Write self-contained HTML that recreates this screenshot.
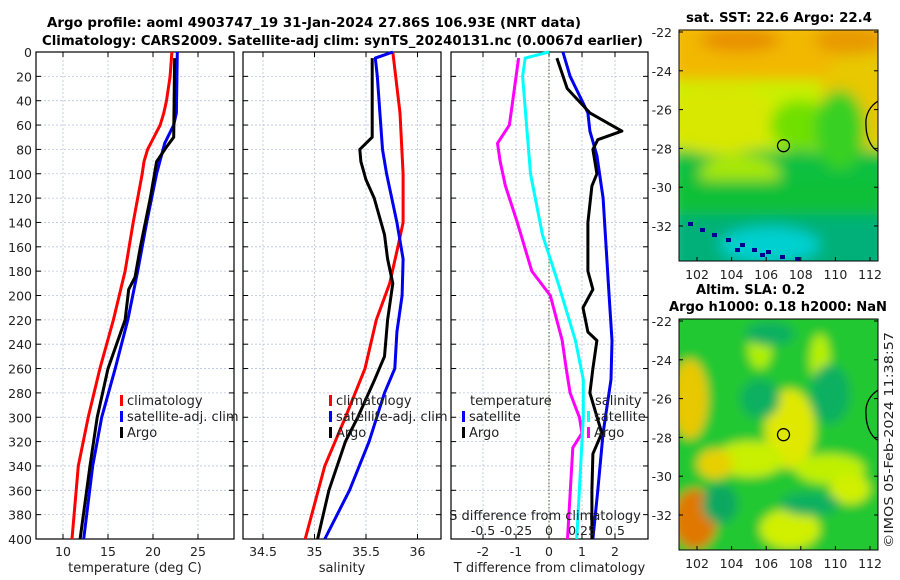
<!DOCTYPE html>
<html><head><meta charset="utf-8"><style>
body{margin:0;background:#fff;}
svg{display:block;font-family:"DejaVu Sans","Liberation Sans",sans-serif;}
</style></head><body>
<svg id="fig" width="900" height="580" viewBox="0 0 900 580">
<defs>
<filter id="blur1" x="-20%" y="-20%" width="140%" height="140%"><feGaussianBlur stdDeviation="7"/></filter>
<filter id="blur2" x="-20%" y="-20%" width="140%" height="140%"><feGaussianBlur stdDeviation="5"/></filter>
<clipPath id="clipTop"><rect x="679" y="30" width="199" height="231"/></clipPath>
<clipPath id="clipBot"><rect x="679" y="319" width="199" height="231"/></clipPath>
</defs>
<text x="47" y="27" font-size="13" font-weight="bold" textLength="534" lengthAdjust="spacingAndGlyphs">Argo profile: aoml 4903747_19 31-Jan-2024 27.86S 106.93E (NRT data)</text>
<text x="42" y="45" font-size="13" font-weight="bold" textLength="601" lengthAdjust="spacingAndGlyphs">Climatology: CARS2009. Satellite-adj clim: synTS_20240131.nc (0.0067d earlier)</text>
<g id="panels"></g>
<g id="maps"></g>
<text transform="translate(893,440) rotate(-90)" text-anchor="middle" font-size="12.5" fill="#222" textLength="216" lengthAdjust="spacingAndGlyphs">©IMOS 05-Feb-2024 11:38:57</text>
</svg>
<script>
// ---- data ----
const depthTicks=[0,20,40,60,80,100,120,140,160,180,200,220,240,260,280,300,320,340,360,380,400];
const tempTicks=[10,15,20,25];
const salTicks=[34.5,35,35.5,36];
const tdiffTicks=[-2,-1,0,1,2];
const sdiffTicks=[-0.5,-0.25,0,0.25,0.5];
const sdiffTickLabels=["-0.5","-0.25","0","0.25","0.5"];

const climTD=[0,20,40,50,60,70,80,90,100,140,180,220,260,300,340,400];
const climT=[22.1,21.9,21.5,21.2,20.8,20.1,19.4,19.0,18.8,17.8,16.9,15.6,14.1,12.8,11.7,11.0];
const satTD=[0,50,60,75,100,140,180,220,260,300,340,400];
const satT=[22.7,22.6,22.3,21.3,20.4,19.3,18.3,17.2,15.8,14.3,13.3,12.3];
const argoTD=[5,70,78,90,120,160,185,195,220,260,300,340,400];
const argoT=[22.4,22.3,21.5,20.4,19.7,18.6,18.0,17.3,16.9,15.0,13.8,13.0,11.9];

const climSD=[0,50,100,140,160,190,220,260,300,340,400];
const climS=[35.76,35.83,35.86,35.86,35.81,35.73,35.6,35.49,35.3,35.1,34.91];
const satSD=[0,5,20,80,100,140,170,200,230,260,280,320,360,400];
const satS=[35.76,35.59,35.61,35.66,35.7,35.8,35.86,35.85,35.8,35.78,35.68,35.53,35.34,35.1];
const argoSD=[5,70,80,90,105,120,150,170,190,220,250,270,300,320,360,400];
const argoS=[35.56,35.56,35.44,35.45,35.5,35.58,35.68,35.71,35.76,35.71,35.68,35.58,35.42,35.3,35.14,35.03];

const sArgoDD=[5,60,75,90,110,140,180,200,237,260,280,300,313,325,400];
const sArgoD=[-0.23,-0.3,-0.39,-0.37,-0.33,-0.24,-0.13,0.01,0.1,0.13,0.16,0.23,0.25,0.18,0.14];
const sSatDD=[0,5,20,100,150,190,237,269,300,400];
const sSatD=[0,-0.18,-0.2,-0.14,-0.05,0.07,0.2,0.26,0.26,0.21];
const tSatDD=[0,20,50,65,85,120,160,200,237,269,313,360,400];
const tSatD=[0.42,0.64,1.18,1.24,1.45,1.64,1.73,1.82,1.91,1.88,1.64,1.48,1.33];
const tArgoDD=[5,30,50,65,72,80,90,100,110,140,180,195,210,230,237,260,280,313,330,360,400];
const tArgoD=[0.24,0.55,1.24,2.21,1.48,1.33,1.39,1.45,1.3,1.18,1.18,1.33,1.03,1.18,1.45,1.33,1.24,1.6,1.33,1.3,1.3];

const NS="http://www.w3.org/2000/svg";
function mk(tag,attrs,parent){const e=document.createElementNS(NS,tag);for(const k in attrs)e.setAttribute(k,attrs[k]);parent.appendChild(e);return e;}
const Y0=52,Y1=539;
const yD=d=>Y0+(d/400)*(Y1-Y0);
const G=document.getElementById('panels');

function panel(name,x0,x1,xmin,xmax,ticks,labels,xlabel,showY){
  const g=mk('g',{},G);
  
  
  const xs=v=>x0+(v-xmin)/(xmax-xmin)*(x1-x0);
  depthTicks.forEach(d=>{ if(d>0&&d<400){const l=mk('line',{x1:x0,x2:x1,y1:yD(d),y2:yD(d),stroke:'#b8c4e0','stroke-width':0.8,'stroke-dasharray':'2,2'},g);}
    mk('line',{x1:x0,x2:x0+5,y1:yD(d),y2:yD(d),stroke:'#000'},g);mk('line',{x1:x1-5,x2:x1,y1:yD(d),y2:yD(d),stroke:'#000'},g);
    if(showY){const t=mk('text',{x:x0-4,y:yD(d)+5,'text-anchor':'end','font-size':12.5,fill:'#222'},g);t.textContent=d;}
  });
  ticks.forEach((v,i)=>{const x=xs(v);
    const l=mk('line',{x1:x,x2:x,y1:Y0,y2:Y1,stroke:'#b8c4e0','stroke-width':0.8,'stroke-dasharray':'2,2'},g);
    mk('line',{x1:x,x2:x,y1:Y1-5,y2:Y1,stroke:'#000'},g);mk('line',{x1:x,x2:x,y1:Y0,y2:Y0+5,stroke:'#000'},g);
    const t=mk('text',{x:x,y:Y1+17,'text-anchor':'middle','font-size':12.5,fill:'#222'},g);t.textContent=labels[i];});
  const xl=mk('text',{x:(x0+x1)/2,y:572,'text-anchor':'middle','font-size':13,fill:'#222'},g);xl.textContent=xlabel;
  const fr=mk('rect',{x:x0,y:Y0,width:x1-x0,height:Y1-Y0,fill:'none',stroke:'#000','stroke-width':1.2},g);
  return {g,xs};
}
function line(p,ds,vs,color,name,sc){
  const pts=ds.map((d,i)=>(sc?sc(vs[i]):p.xs(vs[i])).toFixed(1)+','+yD(d).toFixed(1)).join(' ');
  const l=mk('polyline',{points:pts,fill:'none',stroke:color,'stroke-width':3,'stroke-linejoin':'round'},p.g);
  
}
function legend(g,x,y,items){items.forEach((it,i)=>{mk('rect',{x:x,y:y+i*16-10,width:3,height:11,fill:it[1]},g);
  const t=mk('text',{x:x+7,y:y+i*16,'font-size':13,fill:'#222'},g);t.textContent=it[0];});}

const p1=panel('temperature-panel',36,234,7,29,tempTicks,tempTicks.map(String),'temperature (deg C)',true);
line(p1,climTD,climT,'#f00','climatology-temp-line');
line(p1,satTD,satT,'#0000f0','satellite-temp-line');
line(p1,argoTD,argoT,'#000','argo-temp-line');
legend(p1.g,120,405,[['climatology','#f00'],['satellite-adj. clim','#00f'],['Argo','#000']]);

const p2=panel('salinity-panel',243,441,34.306,36.228,salTicks,['34.5','35','35.5','36'],'salinity',false);
line(p2,climSD,climS,'#f00','climatology-salinity-line');
line(p2,satSD,satS,'#0000f0','satellite-salinity-line');
line(p2,argoSD,argoS,'#000','argo-salinity-line');
legend(p2.g,329,405,[['climatology','#f00'],['satellite-adj. clim','#00f'],['Argo','#000']]);

const p3=panel('difference-panel',451,648,-2.97,3.0,tdiffTicks,tdiffTicks.map(String),'T difference from climatology',false);
const sx=v=>p3.xs(v*4);
const zl=mk('line',{x1:p3.xs(0),x2:p3.xs(0),y1:Y0,y2:Y1,stroke:'#4a5a20','stroke-width':1,'stroke-dasharray':'1.5,2'},p3.g);

line(p3,sArgoDD,sArgoD,'#f0f','argo-salinity-diff-line',sx);
line(p3,sSatDD,sSatD,'#0ff','satellite-salinity-diff-line',sx);
line(p3,tSatDD,tSatD,'#0000f0','satellite-temp-diff-line');
line(p3,tArgoDD,tArgoD,'#000','argo-temp-diff-line');
{const t=mk('text',{x:470,y:405,'font-size':13,fill:'#222'},p3.g);t.textContent='temperature';}
{const t=mk('text',{x:595,y:405,'font-size':13,fill:'#222'},p3.g);t.textContent='salinity';}
legend(p3.g,462,421,[['satellite','#00f'],['Argo','#000']]);
legend(p3.g,587,421,[['satellite','#0ff'],['Argo','#f0f']]);
{const t=mk('text',{x:545,y:520,'text-anchor':'middle','font-size':13,fill:'#222'},p3.g);t.textContent='S difference from climatology';}
sdiffTicks.forEach((v,i)=>{const t=mk('text',{x:sx(v),y:535,'text-anchor':'middle','font-size':12.5,fill:'#222'},p3.g);t.textContent=sdiffTickLabels[i];});

// ---- maps ----
const M=document.getElementById('maps');
const lonTicks=[102,104,106,108,110,112];
const latTicks=[-22,-24,-26,-28,-30,-32];
const lx=lon=>697+(lon-102)*17.3;
const ly=(lat,off)=>32+off+(-22-lat)*19.4;
function map(name,off,clip,blobs,filt,title){
  const g=mk('g',{},M);
  
  
  const c=mk('g',{'clip-path':'url(#'+clip+')'},g);
  const b=mk('g',{filter:'url(#'+filt+')'},c);
  blobs.forEach(bl=>mk(bl[0]==='r'?'rect':'ellipse',bl[0]==='r'?{x:bl[1],y:bl[2]+off,width:bl[3],height:bl[4],fill:bl[5]}:{cx:bl[1],cy:bl[2]+off,rx:bl[3],ry:bl[4],fill:bl[5]},b));
  mk('path',{d:`M880 ${100+off} C870 ${105+off},865 ${115+off},866 ${125+off} C866 ${138+off},872 ${150+off},880 ${152+off}`,fill:'none',stroke:'#000','stroke-width':1.3},c);
  const ci=mk('circle',{cx:lx(107),cy:ly(-27.86,off),r:6,fill:'none',stroke:'#000','stroke-width':1.3},g);
  
  mk('rect',{x:679,y:30+off,width:199,height:231,fill:'none',stroke:'#000','stroke-width':1},g);
  lonTicks.forEach(v=>{mk('line',{x1:lx(v),x2:lx(v),y1:261+off,y2:257+off,stroke:'#000'},g);
    const t=mk('text',{x:lx(v),y:279+off,'text-anchor':'middle','font-size':12.5,fill:'#222'},g);t.textContent=v;});
  latTicks.forEach(v=>{mk('line',{x1:679,x2:683,y1:ly(v,off),y2:ly(v,off),stroke:'#000'},g);mk('line',{x1:874,x2:878,y1:ly(v,off),y2:ly(v,off),stroke:'#000'},g);
    const t=mk('text',{x:672,y:ly(v,off)+5,'text-anchor':'end','font-size':12.5,fill:'#222'},g);t.textContent=v;});
  title.forEach((s,i)=>{const t=mk('text',{x:s[1],y:(off?294:22)+i*17,'font-size':13,'font-weight':'bold',textLength:s[2],lengthAdjust:'spacingAndGlyphs'},g);t.textContent=s[0];});
}
const sstBlobs=[
 ['r',670,20,220,250,'#0cc040'],
 ['r',670,20,220,75,'#f2b800'],
 ['r',670,80,220,70,'#c8f000'],
 ['e',720,120,60,35,'#d8e800'],
 ['e',860,100,40,50,'#e8c800'],
 ['e',800,125,30,25,'#70e000'],
 ['e',840,130,25,40,'#38d020'],
 ['e',740,175,40,20,'#a8e800'],
 ['r',670,180,220,40,'#10c038'],
 ['r',670,215,220,60,'#00b078'],
 ['e',770,245,50,18,'#00d0d0'],
 ['e',740,40,40,12,'#e89000'],
 ['e',850,40,35,15,'#e89a00']];
map('sst-map',0,'clipTop',sstBlobs,'blur1',[['sat. SST: 22.6 Argo: 22.4',686,186]]);
const topC=M.lastChild;
const specks=[[688,222],[700,228],[712,233],[726,238],[740,243],[752,248],[766,250],[780,255],[760,253],[795,257],[735,248]];
specks.forEach(p=>{const r=mk('rect',{x:p[0],y:p[1],width:5,height:4,fill:'#000090'},topC);});
const slaBlobs=[
 ['r',670,20,220,250,'#20c830'],
 ['e',690,110,18,40,'#e8c800'],
 ['e',695,230,22,30,'#e07800'],
 ['e',790,140,25,40,'#e0e800'],
 ['e',750,170,35,18,'#c8f000'],
 ['e',715,175,18,15,'#e8d000'],
 ['e',830,180,35,15,'#c0f000'],
 ['e',850,200,20,15,'#d0f000'],
 ['e',790,240,30,20,'#d0f000'],
 ['e',760,60,12,20,'#b0f000'],
 ['e',820,70,10,25,'#b8f000'],
 ['e',760,110,20,20,'#10b060'],
 ['e',830,105,20,30,'#10b060'],
 ['e',720,215,18,20,'#10a860'],
 ['e',770,45,25,12,'#10b060'],
 ['e',810,215,30,12,'#10b060']];
map('sla-map',289,'clipBot',slaBlobs,'blur2',[['Altim. SLA: 0.2',696,109],['Argo h1000: 0.18 h2000: NaN',669,218]]);
</script>
</body></html>
